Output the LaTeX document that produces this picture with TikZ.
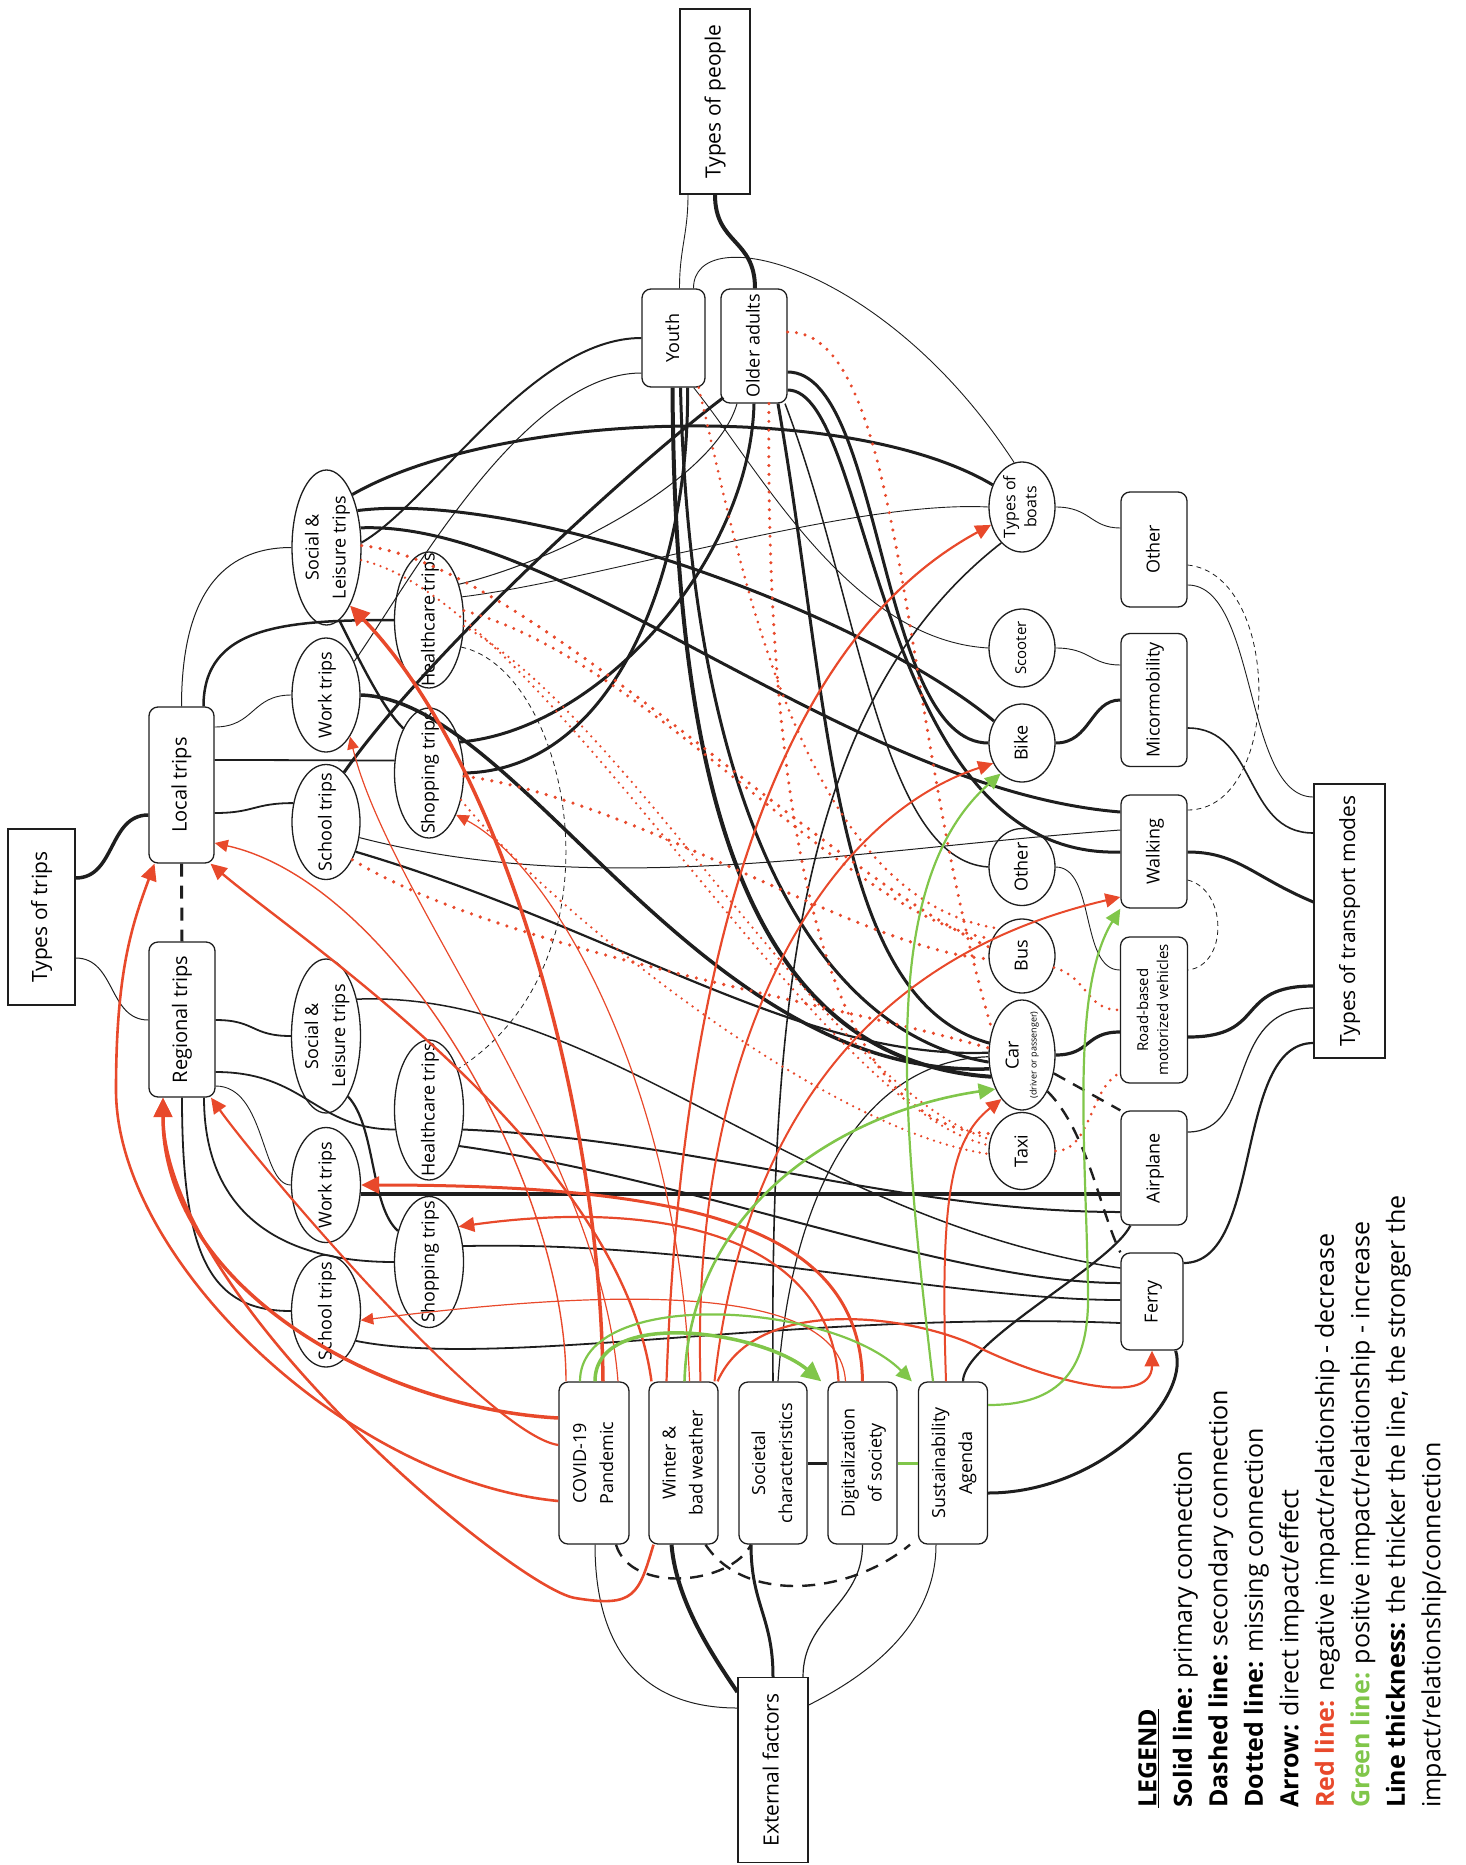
\documentclass[tikz,border=0pt]{standalone}
\usepackage{fontspec}
\setmainfont{Open Sans}
\usetikzlibrary{arrows.meta,shapes.geometric,calc}
\definecolor{ink}{HTML}{1E1E1E}
\definecolor{negred}{HTML}{E8492B}
\definecolor{posgreen}{HTML}{80C64A}
\newcommand{\vlab}[1]{\rotatebox{90}{\makebox[0pt]{\smash{\raisebox{-0.25em}{\begin{tabular}{@{}c@{}}#1\end{tabular}}}}}}
\tikzset{
  bigbox/.style={draw=ink, fill=white, line width=1.3pt, rectangle, inner sep=0pt, font=\fontsize{21}{28}\selectfont},
  roundbox/.style={draw=ink, fill=white, line width=1.3pt, rectangle, rounded corners=9pt, inner sep=0pt, font=\fontsize{18}{27}\selectfont},
  tripell/.style={draw=ink, fill=white, line width=1.3pt, ellipse, inner sep=0pt, font=\fontsize{18}{27}\selectfont},
  blk/.style={draw=ink, line width=#1},
  blk/.default=1pt,
  blkdash/.style={draw=ink, line width=#1, dash pattern=on 13pt off 9pt},
  thindash/.style={draw=ink, line width=0.8pt, dash pattern=on 5pt off 4pt},
  redarr/.style={draw=negred, line width=#1, -{Triangle[length=9pt 3,width=8pt 3]}},
  greenarr/.style={draw=posgreen, line width=#1, -{Triangle[length=9pt 3,width=8pt 3]}},
  reddot/.style={draw=negred, line width=#1, line cap=round, dash pattern=on 0pt off 2.6*#1}
}
\begin{document}
\begin{tikzpicture}[x=1pt,y=-1pt]
\useasboundingbox (0,0) rectangle (1466,1865);

% Group boxes
\node[bigbox, minimum width=67pt, minimum height=176pt] (typesTrips) at (41.5,917) {\vlab{Types of trips}};%
\node[bigbox, minimum width=70pt, minimum height=185pt] (typesPeople) at (715,101.5) {\vlab{Types of people}};%
\node[bigbox, minimum width=71pt, minimum height=274pt] (typesModes) at (1349.5,921) {\vlab{Types of transport modes}};%
\node[bigbox, minimum width=70pt, minimum height=185pt] (extFactors) at (773,1770) {\vlab{External factors}};%

% Trip scales
\node[roundbox, minimum width=65pt, minimum height=156pt, font=\fontsize{20}{27}\selectfont] (localTrips) at (181.5,785) {\vlab{Local trips}};%
\node[roundbox, minimum width=66pt, minimum height=155pt, font=\fontsize{20}{27}\selectfont] (regionalTrips) at (182,1019.5) {\vlab{Regional trips}};%

% Local trip purposes
\node[tripell, minimum width=69pt, minimum height=155pt] (leisureL) at (326.5,547.5) {\vlab{Social \&\\Leisure trips}};%
\node[tripell, minimum width=68pt, minimum height=114pt] (workL) at (326,695) {\vlab{Work trips}};%
\node[tripell, minimum width=68pt, minimum height=115pt] (schoolL) at (326,822) {\vlab{School trips}};%
\node[tripell, minimum width=69pt, minimum height=136pt] (healthL) at (429,620) {\vlab{Healthcare trips}};%
\node[tripell, minimum width=69pt, minimum height=130pt] (shopL) at (429,773) {\vlab{Shopping trips}};%

% Regional trip purposes
\node[tripell, minimum width=69pt, minimum height=154pt] (leisureR) at (326,1036) {\vlab{Social \&\\Leisure trips}};%
\node[tripell, minimum width=69pt, minimum height=140pt] (healthR) at (429,1110) {\vlab{Healthcare trips}};%
\node[tripell, minimum width=69pt, minimum height=115pt] (workR) at (326,1185) {\vlab{Work trips}};%
\node[tripell, minimum width=69pt, minimum height=131pt] (shopR) at (429,1262) {\vlab{Shopping trips}};%
\node[tripell, minimum width=69pt, minimum height=112pt] (schoolR) at (326,1311) {\vlab{School trips}};%

% People
\node[roundbox, minimum width=63pt, minimum height=98pt] (youth) at (673.5,338) {\vlab{Youth}};%
\node[roundbox, minimum width=66pt, minimum height=114pt] (olderAdults) at (754,346) {\vlab{Older adults}};%

% Transport modes
\node[roundbox, minimum width=66pt, minimum height=115pt] (otherMode) at (1154,549.5) {\vlab{Other}};%
\node[roundbox, minimum width=66pt, minimum height=133pt] (micro) at (1154,700) {\vlab{Micormobility}};%
\node[roundbox, minimum width=66pt, minimum height=113pt] (walking) at (1154,851.5) {\vlab{Walking}};%
\node[roundbox, minimum width=67pt, minimum height=146pt, font=\fontsize{15}{20}\selectfont] (roadBased) at (1154,1010) {\vlab{Road-based\\motorized vehicles}};%
\node[roundbox, minimum width=66pt, minimum height=114pt] (airplane) at (1154,1168) {\vlab{Airplane}};%
\node[roundbox, minimum width=62pt, minimum height=97pt] (ferry) at (1152,1301.5) {\vlab{Ferry}};%

% Vehicle types
\node[tripell, minimum width=66pt, minimum height=90pt, font=\fontsize{16}{21}\selectfont] (boats) at (1022,507) {\vlab{Types of\\boats}};%
\node[tripell, minimum width=66pt, minimum height=78pt, font=\fontsize{15}{20}\selectfont] (scooter) at (1022,648) {\vlab{Scooter}};%
\node[tripell, minimum width=66pt, minimum height=78pt] (bike) at (1022,743) {\vlab{Bike}};%
\node[tripell, minimum width=66pt, minimum height=77pt] (otherE) at (1022,867) {\vlab{Other}};%
\node[tripell, minimum width=66pt, minimum height=74pt] (bus) at (1022,956) {\vlab{Bus}};%
\node[tripell, minimum width=66pt, minimum height=110pt] (car) at (1022,1055) {\vlab{Car\\[-9pt]{\fontsize{9}{11}\selectfont(driver or passenger)}}};%
\node[tripell, minimum width=66pt, minimum height=77pt] (taxi) at (1022,1151) {\vlab{Taxi}};%

% External factors
\node[roundbox, minimum width=70pt, minimum height=162pt] (covid) at (594,1463) {\vlab{COVID-19\\Pandemic}};%
\node[roundbox, minimum width=69pt, minimum height=162pt] (winter) at (683.5,1463) {\vlab{Winter \&\\bad weather}};%
\node[roundbox, minimum width=68pt, minimum height=162pt] (societal) at (773,1463) {\vlab{Societal\\characteristics}};%
\node[roundbox, minimum width=69pt, minimum height=162pt] (digital) at (862.5,1463) {\vlab{Digitalization\\of society}};%
\node[roundbox, minimum width=69pt, minimum height=162pt] (sustain) at (953,1463) {\vlab{Sustainability\\Agenda}};%

% Drawing hierarchy of trips
\draw[blk=3.5pt] (typesTrips.east |- 0,878) .. controls +(40,0) and +(-40,0) .. (localTrips.west |- 0,815);%
\draw[blk=1pt] (typesTrips.east |- 0,958) .. controls +(40,0) and +(-40,0) .. (regionalTrips.west |- 0,1020);%
\draw[blkdash=3pt] (localTrips.south) -- (regionalTrips.north);%
\draw[blk=1pt] (localTrips.north) .. controls +(0,-110) and +(-70,0) .. (leisureL.west);%
\draw[blk=2.5pt] ($(localTrips.north)+(22,0)$) .. controls +(0,-80) and +(-110,0) .. (healthL.west);%
\draw[blk=0.9pt] (localTrips.east |- 0,727) .. controls +(40,0) and +(-40,0) .. (workL.west);%
\draw[blk=1.8pt] (localTrips.east |- 0,760) .. controls +(80,0) and +(-70,0) .. (shopL.160);%
\draw[blk=1.8pt] (localTrips.east |- 0,813) .. controls +(40,0) and +(-40,0) .. (schoolL.150);%
\draw[blk=1.8pt] (regionalTrips.east |- 0,1020) .. controls +(40,0) and +(-40,0) .. (leisureR.west);%
\draw[blk=1.8pt] (regionalTrips.east |- 0,1072) .. controls +(90,0) and +(-80,0) .. (healthR.210);%
\draw[blk=0.9pt] (regionalTrips.east |- 0,1086) .. controls +(50,0) and +(-30,0) .. (workR.west);%
\draw[blk=1.8pt] ($(regionalTrips.south)+(22,0)$) .. controls +(0,110) and +(-120,0) .. (shopR.west);%
\draw[blk=1.8pt] (regionalTrips.south) .. controls +(0,160) and +(-80,0) .. (schoolR.west);%

% Drawing hierarchy of people
\draw[blk=0.9pt] ($(typesPeople.south)+(-27,0)$) .. controls +(0,40) and +(0,-40) .. ($(youth.north)+(6,0)$);%
\draw[blk=4pt] (typesPeople.south) .. controls +(0,50) and +(0,-50) .. ($(olderAdults.north)+(1,0)$);%
\draw[blk=0.9pt] ($(youth.north)+(20,0)$) .. controls +(0,-70) and +(-130,-200) .. (boats.100);%

% Drawing hierarchy of transport modes
\draw[blk=0.9pt] (typesModes.west |- 0,797) .. controls +(-70,0) and +(70,0) .. (otherMode.east |- 0,585);%
\draw[blk=1.6pt] (typesModes.west |- 0,833) .. controls +(-70,0) and +(70,0) .. (micro.east |- 0,728);%
\draw[blk=3pt] (typesModes.west |- 0,902) .. controls +(-60,-25) and +(50,0) .. (walking.east |- 0,852);%
\draw[blk=3.2pt] (typesModes.west |- 0,986) .. controls +(-80,0) and +(80,0) .. (roadBased.east |- 0,1037);%
\draw[blk=1.2pt] (typesModes.west |- 0,1008) .. controls +(-90,0) and +(70,0) .. (airplane.east |- 0,1132);%
\draw[blk=2.2pt] (typesModes.west |- 0,1043) .. controls +(-80,0) and +(80,0) .. (ferry.east |- 0,1263);%
\draw[blk=0.9pt] (boats.east) .. controls +(35,0) and +(-30,0) .. (otherMode.west |- 0,528);%
\draw[blk=0.9pt] (scooter.east) .. controls +(35,0) and +(-30,0) .. (micro.west |- 0,665);%
\draw[blk=3pt] (bike.east) .. controls +(35,0) and +(-30,0) .. (micro.west |- 0,700);%
\draw[blk=0.9pt] (otherE.east) .. controls +(40,0) and +(-40,0) .. (roadBased.west |- 0,970);%
\draw[blk=3.2pt] (car.east) .. controls +(35,0) and +(-35,0) .. (roadBased.west |- 0,1032);%
\draw[reddot=3pt] (bus.-20) .. controls +(35,10) and +(-35,0) .. (roadBased.west |- 0,1010);%
\draw[reddot=3pt] (taxi.east) .. controls +(35,0) and +(-30,15) .. (roadBased.west |- 0,1073);%
\draw[blkdash=2.4pt] (car.-30) -- (airplane.north west);%
\draw[blkdash=2.4pt] (car.-55) .. controls +(40,40) and +(-20,-40) .. (ferry.north west);%
\draw[thindash] (otherMode.east |- 0,565) .. controls +(95,10) and +(95,0) .. (walking.east |- 0,810);%
\draw[thindash] (walking.east |- 0,880) .. controls +(40,10) and +(40,-5) .. (roadBased.east |- 0,970);%
\draw[blk=2.2pt] ($(sustain.north)+(10,0)$) .. controls +(0,-40) and +(-20,40) .. ($(airplane.south west)+(10,0)$);%
\draw[blk=3pt] ($(ferry.south east)+(-8,0)$) .. controls +(15,50) and +(110,0) .. (sustain.east |- 0,1493);%

% Drawing hierarchy of external factors
\draw[blk=1pt] ($(covid.south)+(1,0)$) .. controls +(0,110) and +(-90,0) .. (extFactors.west |- 0,1708);%
\draw[blk=4pt] ($(winter.south)+(-12,0)$) .. controls +(5,60) and +(-20,-30) .. (extFactors.west |- 0,1692);%
\draw[blk=3pt] ($(societal.south)+(-22,0)$) .. controls +(0,60) and +(0,-60) .. (extFactors.north);%
\draw[blk=1.2pt] (digital.south) .. controls +(0,60) and +(0,-60) .. ($(extFactors.north)+(30,0)$);%
\draw[blk=1pt] ($(sustain.south)+(-17,0)$) .. controls +(0,80) and +(60,-30) .. (extFactors.east |- 0,1705);%
\draw[blkdash=2.4pt] ($(covid.south)+(22,0)$) .. controls +(15,50) and +(-20,40) .. ($(societal.south)+(-22,0)$);%
\draw[blkdash=2.4pt] ($(winter.south)+(22,0)$) .. controls +(40,60) and +(-60,50) .. ($(sustain.south)+(-43,0)$);%
\draw[blk=3pt] (societal.east) -- (digital.west);%
\draw[draw=posgreen, line width=3pt] (digital.east) -- (sustain.west);%

% Drawing regional trips to modes
\draw[blk=4.5pt] (workR.east |- 0,1194) -- (airplane.west |- 0,1194);%
\draw[blk=2pt] (healthR.-30) .. controls (700,1140) and (900,1212) .. (airplane.west |- 0,1212);%
\draw[blk=2pt] (healthR.-50) .. controls (700,1180) and (950,1283) .. (ferry.west |- 0,1283);%
\draw[blk=1.5pt] (leisureR.50) .. controls (600,990) and (800,1220) .. (ferry.west |- 0,1268);%
\draw[blk=1.8pt] (shopR.25) .. controls (700,1240) and (950,1300) .. (ferry.west |- 0,1300);%
\draw[blk=1.8pt] (schoolR.-45) .. controls (500,1370) and (800,1310) .. (ferry.west |- 0,1323);%
\draw[blk=2.2pt] (leisureR.-70) .. controls +(28,30) and +(-28,-25) .. (shopR.135);%
\draw[thindash] (healthL.-40) .. controls (570,670) and (630,960) .. (healthR.55);%

% Drawing local trips, people and modes
\draw[blk=3pt] (leisureL.64) .. controls (500,410) and (850,400) .. (boats.143);%
\draw[blk=3pt] (leisureL.50) .. controls (520,490) and (860,610) .. (bike.142);%
\draw[blk=3pt] (leisureL.30) .. controls (560,520) and (850,790) .. (walking.west |- 0,812);%
\draw[blk=2.4pt] (leisureL.-80) .. controls +(25,50) and +(-20,-20) .. (shopL.120);%
\draw[blk=2pt] (youth.west |- 0,338) .. controls +(-110,0) and +(70,-40) .. (leisureL.8);%
\draw[blk=1pt] (youth.west |- 0,373) .. controls +(-120,0) and +(50,-70) .. (workL.50);%
\draw[blk=3pt] ($(olderAdults.south west)+(3,-6)$) .. controls (640,460) and (430,650) .. (schoolL.70);%
\draw[blk=3pt] (shopL.45) .. controls (600,730) and (750,560) .. (olderAdults.south);%
\draw[blk=3pt] (shopL.east) .. controls (620,770) and (690,560) .. ($(youth.south)+(14,0)$);%
\draw[blk=4pt] ($(youth.south)+(-1,0)$) .. controls (675,800) and (750,1060) .. (car.215);%
\draw[blk=3pt] ($(youth.south)+(7,0)$) .. controls (690,780) and (800,1030) .. (car.192);%
\draw[blk=3pt] ($(olderAdults.south)+(24,0)$) .. controls (830,700) and (830,1000) .. (car.160);%
\draw[blk=1.5pt] ($(olderAdults.south)+(31,0)$) .. controls (860,600) and (880,860) .. (otherE.west);%
\draw[blk=1pt] ($(olderAdults.south)+(-17,0)$) .. controls (715,480) and (560,560) .. (healthL.50);%
\draw[blk=3pt] (olderAdults.east |- 0,372) .. controls +(95,0) and +(-110,0) .. (bike.west);%
\draw[blk=3pt] (olderAdults.east |- 0,390) .. controls +(85,0) and +(-248,8) .. (walking.west |- 0,852);%
\draw[blk=3.5pt] (workL.east) .. controls (520,700) and (700,1080) .. (car.203);%
\draw[blk=1pt] (schoolL.-25) .. controls (600,900) and (850,850) .. (walking.west |- 0,830);%
\draw[blk=2.2pt] (schoolL.-45) .. controls (620,930) and (800,1060) .. (car.176);%
\draw[blk=1.6pt] (societal.north) .. controls (770,1000) and (800,700) .. (boats.240);%
\draw[blk=1.2pt] ($(societal.north)+(5,0)$) .. controls (790,1200) and (860,1060) .. (car.183);%
\draw[blk=0.9pt] ($(youth.south east)+(-12,0)$) .. controls (760,470) and (850,640) .. (scooter.west);%
\draw[blk=0.9pt] (healthL.35) .. controls (600,580) and (850,500) .. (boats.west);%

% Drawing missing connections
\draw[reddot=3.6pt] (leisureL.3) .. controls (520,560) and (820,870) .. (bus.165);%
\draw[reddot=2.6pt] (leisureL.-20) .. controls (540,600) and (820,1110) .. (taxi.170);%
\draw[reddot=3.4pt] (healthL.15) .. controls (650,660) and (850,920) .. (bus.150);%
\draw[reddot=2.6pt] (healthL.-10) .. controls (630,720) and (830,1090) .. (taxi.160);%
\draw[reddot=3.6pt] (shopL.-5) .. controls (640,800) and (860,950) .. (bus.185);%
\draw[reddot=2.6pt] (shopL.-40) .. controls (540,900) and (820,1130) .. (taxi.185);%
\draw[reddot=3.6pt] (schoolL.-55) .. controls (500,950) and (820,1000) .. (car.168);%
\draw[reddot=3pt] ($(youth.south east)+(-7,0)$) .. controls (740,560) and (800,900) .. (bus.130);%
\draw[reddot=3.4pt] ($(olderAdults.south)+(15,0)$) .. controls (765,800) and (820,1130) .. (taxi.150);%
\draw[reddot=3.4pt] (olderAdults.east |- 0,332) .. controls (905,330) and (900,720) .. (car.140);%

% Drawing negative impacts
\draw[redarr=3.5pt] (covid.west |- 0,1418) .. controls +(-180,-10) and +(0,190) .. ($(regionalTrips.south)+(-19,0)$);%
\draw[redarr=2.6pt] ($(winter.south)+(-30,0)$) .. controls +(-15,50) and +(60,10) .. (575,1598) .. controls +(-60,-10) and +(0,200) .. ($(regionalTrips.south)+(-19,0)$);%
\draw[redarr=2.6pt] (covid.west |- 0,1501) .. controls +(-210,-20) and +(0,170) .. (116,1090) .. controls +(0,-120) and +(-22,60) .. ($(localTrips.south)+(-27,0)$);%
\draw[redarr=2.2pt] (covid.west |- 0,1445) .. controls +(-70,-10) and +(50,70) .. ($(regionalTrips.south)+(29,0)$);%
\draw[redarr=1.4pt] ($(covid.north)+(-28,0)$) .. controls +(0,-200) and +(180,40) .. (localTrips.east |- 0,843);%
\draw[redarr=3.5pt] ($(covid.north)+(9,0)$) .. controls (600,1100) and (500,760) .. (leisureL.-68);%
\draw[redarr=1.2pt] ($(covid.north)+(24,0)$) .. controls (600,1150) and (390,900) .. (workL.-60);%
\draw[redarr=2.4pt] ($(winter.north)+(-32,0)$) .. controls (620,1150) and (300,940) .. ($(localTrips.south)+(29,0)$);%
\draw[redarr=2.2pt] ($(winter.north)+(-17,0)$) .. controls (680,1000) and (760,650) .. (boats.210);%
\draw[redarr=1.2pt] ($(winter.north)+(6,0)$) .. controls (680,1100) and (560,870) .. (shopL.-57);%
\draw[redarr=2pt] ($(winter.north)+(17,0)$) .. controls (690,1050) and (820,820) .. (bike.215);%
\draw[redarr=2pt] ($(winter.north)+(31,0)$) .. controls (740,1150) and (850,960) .. (walking.west |- 0,897);%
\draw[redarr=2.2pt] ($(winter.north)+(34,0)$) .. controls +(40,-90) and +(-60,-30) .. (978,1347) .. controls +(60,30) and +(0,60) .. (ferry.south);%
\draw[redarr=2pt] ($(sustain.north)+(-7,0)$) .. controls (940,1200) and (950,1140) .. (car.245);%
\draw[redarr=3pt] (digital.north) .. controls (860,1230) and (700,1185) .. (workR.east);%
\draw[redarr=2.2pt] ($(digital.north)+(-24,0)$) .. controls (830,1230) and (650,1200) .. (shopR.50);%
\draw[redarr=1.2pt] ($(digital.north)+(-17,0)$) .. controls (840,1280) and (600,1290) .. (schoolR.-15);%

% Drawing positive impacts
\draw[greenarr=2.2pt] ($(covid.north)+(-14,0)$) .. controls +(0,-95) and +(-80,-80) .. ($(sustain.north west)+(-6,0)$);%
\draw[greenarr=3.5pt] ($(covid.north)+(1,0)$) .. controls +(0,-75) and +(-60,-50) .. ($(digital.north west)+(-6,0)$);%
\draw[greenarr=2.6pt] ($(winter.north)+(1,0)$) .. controls (690,1200) and (850,1110) .. (car.232);%
\draw[greenarr=2.2pt] ($(sustain.north)+(-20,0)$) .. controls (900,1100) and (880,880) .. (bike.235);%
\draw[greenarr=2.2pt] (sustain.east |- 0,1405) .. controls (1060,1405) and (1090,1370) .. (1088,1290) .. controls (1086,1150) and (1070,990) .. (walking.south west);%

% Legend
\node[rotate=90, anchor=north west, inner sep=0pt, align=left, font=\fontsize{25}{35.5}\selectfont] (legend) at (1138,1808) {\underline{\textbf{LEGEND}}\\
\textbf{Solid line:} primary connection\\
\textbf{Dashed line:} secondary connection\\
\textbf{Dotted line:} missing connection\\
\textbf{Arrow:} direct impact/effect\\
\textcolor{negred}{\textbf{Red line:}} negative impact/relationship - decrease\\
\textcolor{posgreen}{\textbf{Green line:}} positive impact/relationship - increase\\
\textbf{Line thickness:} the thicker the line, the stronger the\\
impact/relationship/connection};%
\end{tikzpicture}
\end{document}
